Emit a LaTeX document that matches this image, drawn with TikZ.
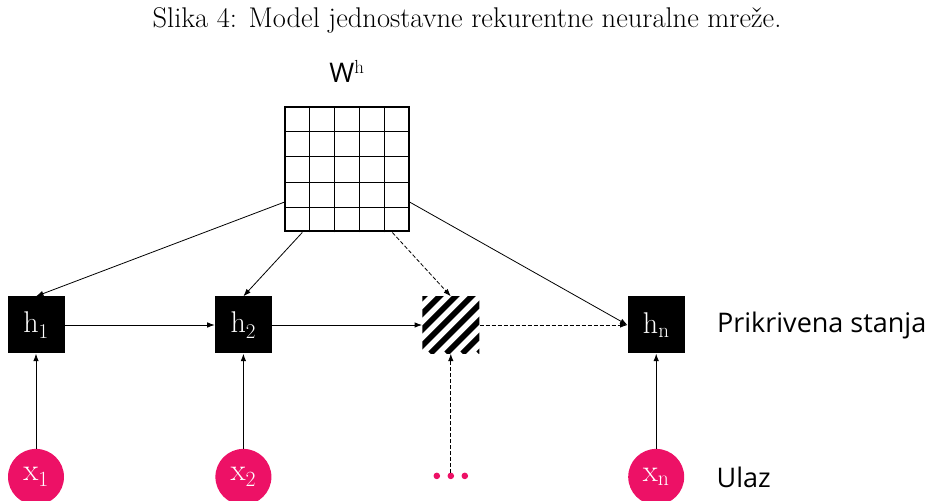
\documentclass[tikz,border=0pt]{standalone}
\usepackage{fontspec}
\newfontfamily\labelfont{Open Sans}
\usetikzlibrary{arrows.meta}
\usetikzlibrary{calc}
\usetikzlibrary{positioning}
\definecolor{mypink}{HTML}{ED1166}
\tikzset{x=1pt, y=1pt, node distance=150pt, >={Latex[length=7.5pt,width=5.5pt]}}
\tikzstyle{hbox} = [fill=black, text=white, minimum size=57pt, inner sep=0pt, font=\fontsize{30}{30}\selectfont]
\tikzstyle{hatch} = [minimum size=57pt, inner sep=0pt, path picture={
  \foreach \c in {-72,-56,...,56}
    \draw[line width=5.6pt] ([xshift=\c pt]path picture bounding box.south west) -- ++(80pt,80pt);}]
\tikzstyle{xnode} = [circle, fill=mypink, text=white, minimum size=56pt, inner sep=0pt, font=\fontsize{31}{31}\selectfont]
\tikzstyle{ln} = [draw, ->, line width=0.8pt]
\tikzstyle{dln} = [ln, dash pattern=on 4pt off 2pt]
\tikzstyle{lbl} = [anchor=west, inner sep=0pt, font=\labelfont\fontsize{27}{27}\selectfont]

\begin{document}
\begin{tikzpicture}[]
  \useasboundingbox (0,0) rectangle (930,501);
  \node (caption) at (467,481) {\fontsize{28.5}{34}\selectfont Slika 4: Model jednostavne rekurentne neuralne mreže.};
  % weight matrix
  \node[draw, line width=2pt, minimum size=124pt, inner sep=0pt] (wh) at (347,331.5) {};
  \foreach \i in {1,...,4} {
    \draw[line width=1pt] ($(wh.south west)!\i/5!(wh.south east)$) -- ($(wh.north west)!\i/5!(wh.north east)$);
    \draw[line width=1pt] ($(wh.south west)!\i/5!(wh.north west)$) -- ($(wh.south east)!\i/5!(wh.north east)$);
  }
  \node[above=20pt of wh, font=\labelfont\fontsize{27}{27}\selectfont] (whlabel) {W\textsuperscript{\rmfamily h}};
  % hidden states
  \node[hbox] (h1) at (36,176) {h\textsubscript{1}};
  \node[hbox, right=of h1] (h2) {h\textsubscript{2}};
  \node[hatch, right=of h2] (hs) {};
  \node[hbox, right=148pt of hs] (hn) {h\textsubscript{n}};
  % inputs
  \node[xnode, below=95pt of h1] (x1) {x\textsubscript{1}};
  \node[xnode, below=95pt of h2] (x2) {x\textsubscript{2}};
  \node[inner sep=0pt, minimum size=6pt, below=119pt of hs] (dots) {};
  \foreach \d in {-14,0,14}
    \fill[mypink] ([xshift=\d pt]dots.center) circle (3.3pt);
  \node[xnode, below=95pt of hn] (xn) {x\textsubscript{n}};
  % labels
  \node[lbl, right=32pt of hn] (hlabel) {Prikrivena stanja};
  \node[lbl, right=32pt of xn] (xlabel) {Ulaz};
  % connections
  \draw[ln] ($(wh.north west)!0.76!(wh.south west)$) -- (h1.north);
  \draw[ln] ($(wh.south west)!0.145!(wh.south east)$) -- (h2.north);
  \draw[dln] ($(wh.south west)!0.86!(wh.south east)$) -- (hs.north);
  \draw[ln] ($(wh.north east)!0.76!(wh.south east)$) -- (hn.west);
  \draw[ln] (h1.east) -- (h2.west);
  \draw[ln] (h2.east) -- (hs.west);
  \draw[dln] (hs.east) -- (hn.west);
  \draw[ln] (x1.north) -- (h1.south);
  \draw[ln] (x2.north) -- (h2.south);
  \draw[dln] (dots.north) -- (hs.south);
  \draw[ln] (xn.north) -- (hn.south);
\end{tikzpicture}
\end{document}
